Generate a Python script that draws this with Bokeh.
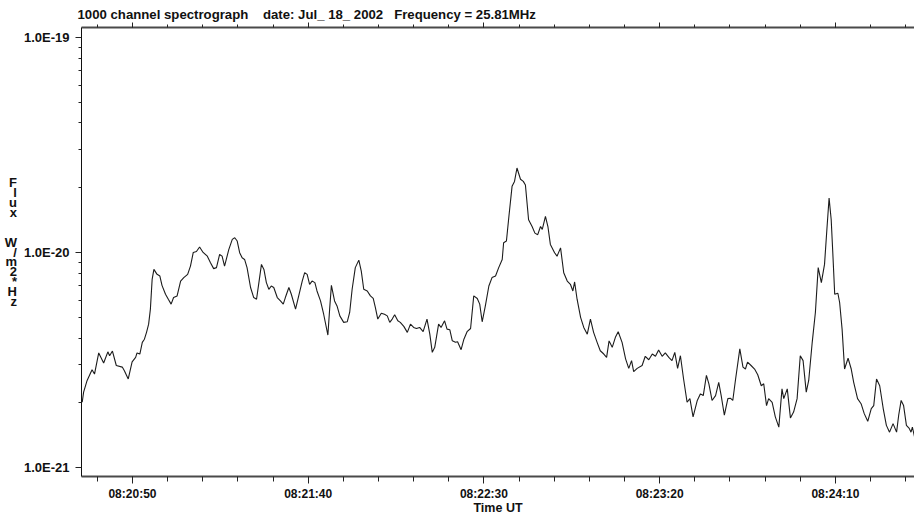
import numpy as np
from bokeh.plotting import figure
from bokeh.models import Range1d, FixedTicker, LinearAxis, Title
from bokeh.embed import file_html
from bokeh.resources import INLINE

# Time of each sample, seconds after 08:20:00 UT
time_s = [
    35.7, 36.1, 37.1, 38.5, 39.2, 40.4, 41.8, 43.0, 43.5, 44.3, 45.4, 47.1, 47.7, 48.8, 49.9,
    50.9, 51.3, 52.1, 52.8, 53.4, 54.0, 54.6, 55.1, 55.6, 56.1, 57.0, 57.8, 58.4, 59.4, 60.2,
    61.0, 61.7, 62.7, 63.7, 64.6, 65.7, 66.5, 67.3, 68.2, 69.1, 70.1, 71.3, 72.2, 73.1, 73.9,
    74.8, 75.5, 76.2, 77.4, 78.4, 79.1, 79.8, 80.5, 81.2, 81.9, 82.6, 83.6, 84.5, 85.3, 85.9,
    86.7, 87.4, 88.1, 88.8, 89.5, 90.2, 91.2, 92.1, 92.9, 93.5, 94.5, 95.2, 96.4, 97.3, 98.3,
    99.0, 99.7, 100.4, 101.1, 101.9, 102.5, 103.5, 104.4, 105.6, 106.1, 106.6, 107.5, 108.2, 109.0, 110.1,
    111.1, 111.8, 112.5, 113.4, 114.4, 115.1, 115.8, 116.8, 117.7, 118.5, 119.1, 119.8, 120.8, 121.7, 122.5,
    123.2, 123.9, 124.6, 125.5, 126.2, 127.2, 128.2, 129.1, 130.0, 130.8, 131.7, 132.7, 133.8, 134.6, 135.3,
    136.0, 137.1, 137.8, 138.8, 139.5, 140.3, 141.0, 141.9, 142.5, 143.5, 144.3, 145.2, 146.2, 147.1, 148.1,
    148.8, 149.5, 150.4, 151.4, 152.3, 153.3, 154.2, 155.2, 155.6, 156.4, 157.1, 158.0, 158.7, 159.4, 160.4,
    161.2, 161.8, 162.7, 163.7, 164.5, 165.3, 166.1, 166.6, 167.5, 168.2, 168.9, 170.1, 170.8, 171.8, 172.7,
    173.7, 174.6, 175.3, 175.8, 176.5, 177.5, 178.4, 179.4, 180.3, 181.2, 182.2, 183.1, 184.1, 184.9, 185.6,
    186.5, 187.4, 188.2, 189.3, 190.3, 191.2, 192.0, 192.6, 193.6, 195.0, 195.9, 196.9, 197.9, 198.8, 199.7,
    200.7, 201.6, 202.6, 203.5, 204.3, 205.1, 205.9, 206.8, 207.8, 208.6, 209.5, 210.7, 211.6, 212.4, 213.3,
    214.0, 214.9, 215.9, 216.8, 217.5, 218.4, 219.4, 220.1, 220.8, 221.6, 222.8, 223.7, 224.4, 225.0, 226.0,
    227.0, 227.9, 228.9, 229.6, 230.4, 231.0, 232.0, 232.9, 233.9, 234.8, 235.3, 236.3, 237.2, 238.1, 239.1,
    240.0, 240.8, 241.7, 242.4, 243.4, 244.3, 245.1, 246.0, 246.9, 247.6, 248.2, 248.8, 249.3, 249.8, 250.7,
    251.2, 251.9, 252.6, 253.6, 254.5, 255.2, 256.3, 257.3, 258.2, 259.2, 260.2, 260.9, 261.7, 262.6, 263.6,
    264.5, 265.4, 266.4, 267.4, 268.0, 268.7, 269.4, 270.2, 271.0, 271.5, 271.9, 272.5,
]

# Flux density at 25.81 MHz, in units of 1e-21 W/m^2/Hz
flux_e21 = [
    2.01, 2.24, 2.54, 2.85, 2.72, 3.41, 3.06, 3.45, 3.31, 3.48, 2.98, 2.93, 2.82, 2.58, 3.10,
    3.25, 3.41, 3.37, 3.82, 3.95, 4.25, 4.64, 5.45, 7.50, 8.34, 7.91, 7.77, 7.03, 6.39, 6.06,
    5.75, 6.17, 6.28, 7.36, 7.64, 7.91, 8.64, 10.0, 10.1, 10.6, 10.0, 9.61, 8.96, 8.41, 8.50,
    9.79, 9.61, 8.64, 10.3, 11.5, 11.7, 11.3, 9.97, 9.45, 9.28, 8.50, 6.87, 6.17, 6.06, 7.11,
    8.80, 8.34, 7.24, 6.74, 6.98, 6.87, 6.17, 5.95, 5.75, 6.17, 6.87, 6.39, 5.45, 6.28, 7.36,
    8.05, 7.91, 7.11, 7.36, 7.24, 6.62, 5.95, 5.16, 4.13, 5.45, 7.03, 5.95, 5.64, 5.07, 4.73,
    4.76, 5.26, 6.74, 8.50, 9.21, 8.19, 6.74, 6.62, 6.28, 6.11, 5.55, 4.90, 5.22, 5.16, 5.07,
    4.73, 4.90, 5.13, 4.81, 4.73, 4.53, 4.25, 4.64, 4.48, 4.43, 4.48, 4.28, 4.90, 4.17, 3.43,
    3.62, 4.64, 4.48, 4.81, 4.40, 4.37, 3.88, 3.82, 3.84, 3.53, 3.95, 4.28, 4.43, 6.28, 6.11,
    5.75, 4.76, 5.64, 6.98, 7.64, 7.77, 8.50, 9.28, 11.1, 11.3, 14.7, 20.3, 21.4, 24.7, 21.9,
    21.4, 20.6, 14.2, 13.2, 12.3, 12.1, 13.2, 12.8, 14.7, 13.2, 10.9, 9.97, 9.61, 10.5, 8.05,
    7.36, 7.11, 6.62, 7.29, 6.06, 4.99, 4.48, 4.17, 4.90, 4.25, 3.82, 3.49, 3.37, 3.25, 3.88,
    3.62, 4.03, 4.28, 3.82, 3.20, 2.89, 3.14, 2.79, 2.89, 2.98, 3.29, 3.17, 3.37, 3.29, 3.52,
    3.29, 3.41, 3.25, 3.14, 3.43, 2.89, 3.31, 2.58, 2.01, 2.09, 1.72, 2.05, 2.20, 2.16, 2.68,
    2.45, 2.05, 2.16, 2.49, 2.16, 1.75, 2.09, 2.10, 2.05, 2.58, 3.56, 2.93, 2.87, 3.09, 2.98,
    2.87, 2.70, 2.40, 2.45, 1.94, 2.09, 2.01, 1.72, 1.54, 2.32, 2.09, 2.32, 1.70, 1.81, 2.09,
    3.31, 3.14, 2.24, 2.54, 3.82, 5.26, 8.50, 7.24, 8.80, 13.0, 17.9, 14.2, 9.61, 6.39, 6.46,
    5.85, 4.40, 2.87, 3.22, 2.87, 2.49, 2.09, 1.98, 1.78, 1.64, 1.88, 1.94, 2.58, 2.40, 1.88,
    1.57, 1.46, 1.60, 1.46, 1.75, 2.05, 1.94, 1.57, 1.52, 1.46, 1.54, 1.39,
]

# Time axis ticks (seconds after 08:20:00 UT)
x_major = [50, 100, 150, 200, 250]
x_labels = ["08:20:50", "08:21:40", "08:22:30", "08:23:20", "08:24:10"]
x_minor = list(range(40, 280, 10))

# Flux axis ticks
y_major = [1e-21, 1e-20, 1e-19]
y_labels = ["1.0E-21", "1.0E-20", "1.0E-19"]

title_text = "1000 channel spectrograph    date: Jul_ 18_ 2002   Frequency = 25.81MHz"
x_title = "Time UT"
# flux units, written one character per line down the left side
y_title = "F\nl\nu\nx\n\u00a0\n\u00a0\nW\n/\nm\n2\n*\nH\nz\n\u00a0\n\u00a0"

FONT = "Liberation Sans"
INK = "#111111"

flux = np.array(flux_e21) * 1e-21

p = figure(width=914, height=517, y_axis_type="log", title=None,
           x_range=Range1d(35.5, 272.5), y_range=Range1d(9.08e-22, 1.112e-19),
           output_backend="svg", toolbar_location=None,
           min_border_left=81, min_border_right=0, min_border_top=27, min_border_bottom=39)
p.outline_line_color = None
p.background_fill_color = "white"
p.border_fill_color = "white"
p.xgrid.visible = False
p.ygrid.visible = False

# bottom time axis
xa = p.xaxis[0]
xa.ticker = FixedTicker(ticks=x_major, minor_ticks=x_minor)
xa.major_label_overrides = dict(zip(x_major, x_labels))
xa.axis_line_color = "#4a4a4a"
xa.axis_line_width = 2
xa.major_tick_line_color = "#222222"
xa.minor_tick_line_color = "#222222"
xa.major_tick_in = 0
xa.major_tick_out = 7
xa.minor_tick_in = 0
xa.minor_tick_out = 5
xa.major_label_standoff = 3
xa.major_label_text_font = FONT
xa.major_label_text_font_style = "bold"
xa.major_label_text_font_size = "12px"
xa.major_label_text_color = INK
xa.axis_label = x_title
xa.axis_label_standoff = -3
xa.axis_label_text_font = FONT
xa.axis_label_text_font_style = "bold"
xa.axis_label_text_font_size = "12.5px"
xa.axis_label_text_color = INK

# top axis: ticks only
top = LinearAxis(ticker=FixedTicker(ticks=x_major, minor_ticks=x_minor))
top.major_label_overrides = {t: "" for t in x_major}
top.major_label_standoff = 0
top.axis_line_color = "#4a4a4a"
top.axis_line_width = 2
top.major_tick_in = 0
top.major_tick_out = 5
top.minor_tick_in = 0
top.minor_tick_out = 3
top.major_tick_line_color = "#222222"
top.minor_tick_line_color = "#222222"
p.add_layout(top, "above")

# chart title, left-aligned just above the top axis
p.add_layout(Title(text=title_text.replace(" ", "\u00a0"), align="left", offset=-4,
                   standoff=1, text_font=FONT, text_font_style="bold",
                   text_font_size="13.2px", text_color=INK), "above")

# left flux axis
mantissas = [2, 3, 4, 5, 6, 7, 8, 9]
y_minor = [m * d for d in [1e-21, 1e-20] for m in mantissas]
ya = p.yaxis[0]
ya.ticker = FixedTicker(ticks=y_major, minor_ticks=y_minor)
ya.major_label_overrides = dict(zip(y_major, y_labels))
ya.axis_line_color = "#111111"
ya.axis_line_width = 1
ya.major_tick_line_color = "#222222"
ya.minor_tick_line_color = "#222222"
ya.major_tick_in = 0
ya.major_tick_out = 6
ya.minor_tick_in = 0
ya.minor_tick_out = 3
ya.major_label_standoff = 6
ya.major_label_text_font = FONT
ya.major_label_text_font_style = "bold"
ya.major_label_text_font_size = "13px"
ya.major_label_text_color = INK
ya.axis_label = y_title
ya.axis_label_orientation = "horizontal"
ya.axis_label_standoff = 4
ya.axis_label_text_font = FONT
ya.axis_label_text_font_style = "bold"
ya.axis_label_text_font_size = "13px"
ya.axis_label_text_line_height = 0.66
ya.axis_label_text_align = "center"
ya.axis_label_text_color = INK

p.line(time_s, flux, line_color="#1c1c1c", line_width=1.1)

open("out.html", "w").write(file_html(p, INLINE))
